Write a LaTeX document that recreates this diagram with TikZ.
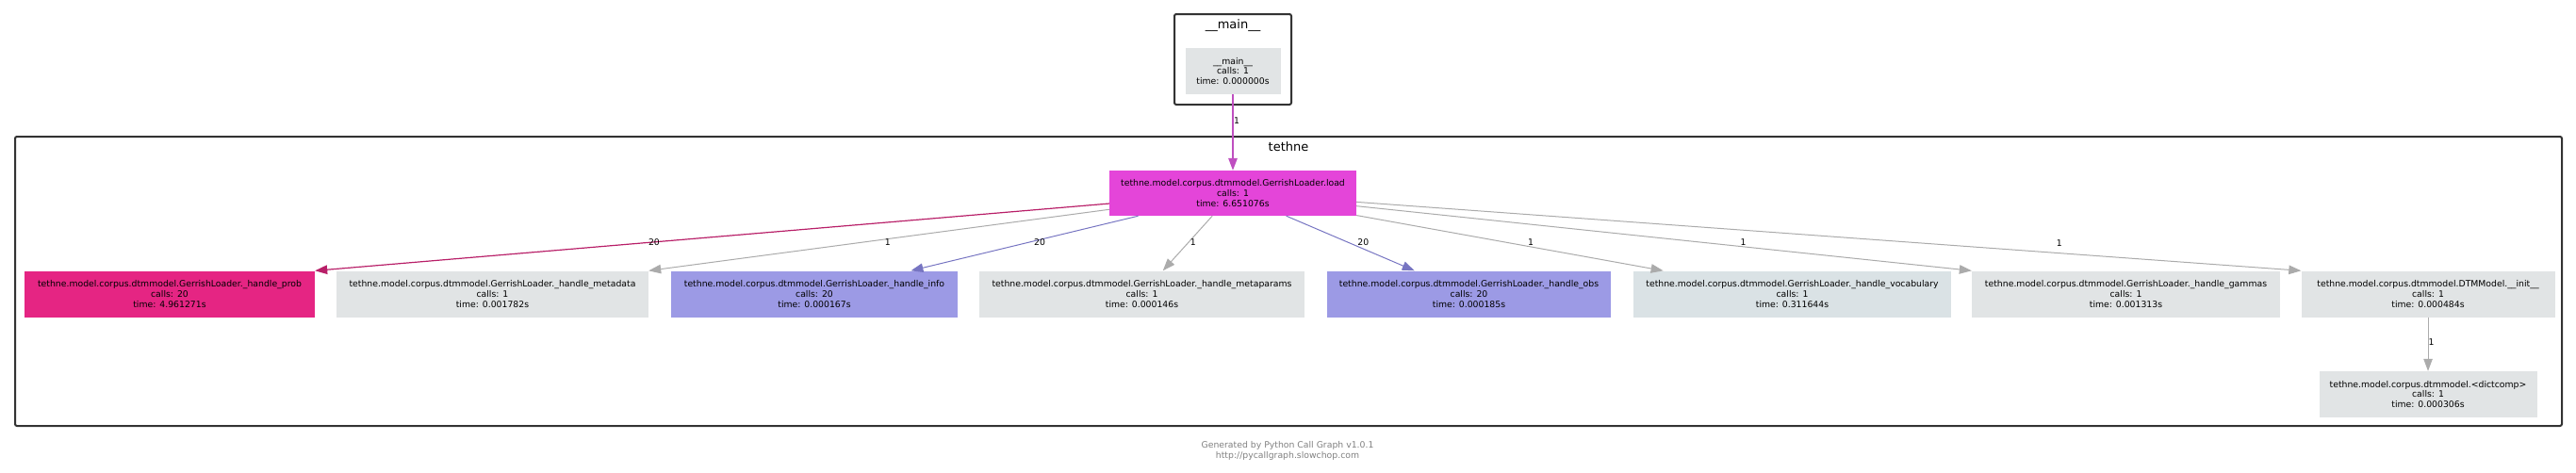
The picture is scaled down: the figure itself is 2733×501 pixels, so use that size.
\documentclass[tikz,border=0pt]{standalone}
\usepackage{fontspec}
\usetikzlibrary{
  arrows.meta,
  positioning,
}
\newfontfamily\callfam{DejaVu Sans}
\newcommand\callfont{\callfam\fontsize{9.3pt}{10.7pt}\selectfont}
\newcommand\clusterfont{\callfam\fontsize{13pt}{15pt}\selectfont}
\definecolor{nodegray}{HTML}{E1E4E5}
\definecolor{vocabfill}{HTML}{DAE2E5}
\definecolor{loadfill}{HTML}{E445D9}
\definecolor{probfill}{HTML}{E52583}
\definecolor{lavender}{HTML}{9C9AE5}
\definecolor{edgegray}{HTML}{ABABAB}
\definecolor{edgemagenta}{HTML}{BF4FC0}
\definecolor{edgepink}{HTML}{B81F68}
\definecolor{edgeblue}{HTML}{7775C2}
\definecolor{clusterline}{HTML}{333333}
\definecolor{footgray}{HTML}{808080}
\tikzset{
  >={Triangle[length=13pt,width=9.5pt]},
  func/.style={rectangle, inner sep=0pt, minimum height=49pt, align=center, font=\callfont},
  cluster/.style={draw=clusterline, line width=2pt, rounded corners=2pt},
  call/.style={->, line width=1pt, draw=edgegray},
  count/.style={font=\callfont, inner sep=0pt},
}

\begin{document}
\begin{tikzpicture}[x=1pt,y=-1pt]
      \useasboundingbox (0,0) rectangle (2733,501);
      \draw[cluster] (1246,15) rectangle (1370,111);
      \node[font=\clusterfont] (maintitle) at (1308,27) {\_\_main\_\_};
      \draw[cluster] (16,145) rectangle (2718,452);
      \node[font=\clusterfont] (tethnetitle) at (1367,156) {tethne};

      \node[func, fill=nodegray, minimum width=101pt] (main) at (1308,75.5)
        {\_\_main\_\_\\calls: 1\\time: 0.000000s};
      \node[func, fill=loadfill, minimum width=262pt, minimum height=48pt] (load) at (1308,205)
        {tethne.model.corpus.dtmmodel.GerrishLoader.load\\calls: 1\\time: 6.651076s};
      \foreach \nm/\cx/\nw/\clr/\fun/\calls/\tm in {
        prob/180/308/probfill/GerrishLoader.\_handle\_prob/20/4.961271,
        metadata/522.5/331/nodegray/GerrishLoader.\_handle\_metadata/1/0.001782,
        info/864/304/lavender/GerrishLoader.\_handle\_info/20/0.000167,
        metaparams/1211.5/345/nodegray/GerrishLoader.\_handle\_metaparams/1/0.000146,
        obs/1558.5/301/lavender/GerrishLoader.\_handle\_obs/20/0.000185,
        vocab/1901.5/337/vocabfill/GerrishLoader.\_handle\_vocabulary/1/0.311644,
        gammas/2255.5/327/nodegray/GerrishLoader.\_handle\_gammas/1/0.001313,
        init/2576/269/nodegray/DTMModel.\_\_init\_\_/1/0.000484}
      {
        \node[func, fill=\clr, minimum width=\nw] (\nm) at (\cx,312)
          {tethne.model.corpus.dtmmodel.\fun\\calls: \calls\\time: \tm s};
      }
      \node[func, fill=nodegray, minimum width=231pt] (dictcomp) at (2576,418.5)
        {tethne.model.corpus.dtmmodel.<dictcomp>\\calls: 1\\time: 0.000306s};

      \draw[call, draw=edgemagenta, line width=1.5pt] (main) -- node[count, pos=0.35, xshift=4pt] {1} (load);
      \draw[call, draw=edgepink, line width=1.2pt] (load) -- node[count, pos=0.573] {20} (prob.north east);
      \draw[call] (load) -- node[count, pos=0.481, yshift=-3.6pt] {1} (metadata.north east);
      \draw[call, draw=edgeblue] (load) -- node[count, pos=0.483, xshift=12pt] {20} (info);
      \draw[call] (load) -- node[count, pos=0.483, xshift=5pt] {1} (metaparams);
      \draw[call, draw=edgeblue] (load) -- node[count, pos=0.483, xshift=16pt] {20} (obs);
      \draw[call] (load) -- node[count, pos=0.568, yshift=4.8pt] {1} (vocab);
      \draw[call] (load) -- node[count, pos=0.629, yshift=4.7pt] {1} (gammas.north west);
      \draw[call] (load) -- node[count, pos=0.744, yshift=11pt] {1} (init.north west);
      \draw[call] (init) -- node[count, pos=0.47, xshift=3.5pt] {1} (dictcomp);

      \node[font=\callfont, text=footgray, align=center] (credit) at (1366,478.5)
        {Generated by Python Call Graph v1.0.1\\http://pycallgraph.slowchop.com};
    \end{tikzpicture}
\end{document}
